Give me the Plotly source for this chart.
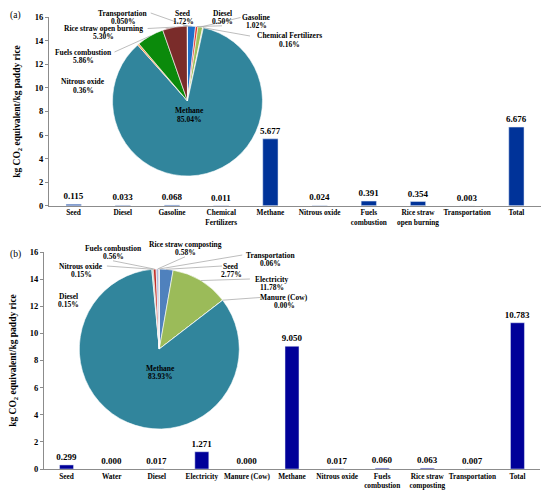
import math
import plotly.graph_objects as go

# Balken (a)
a_categories = ["Seed", "Diesel", "Gasoline", "Chemical<br>Fertilizers", "Methane", "Nitrous oxide",
                "Fuels<br>combustion", "Rice straw<br>open burning", "Transportation", "Total"]
a_values = [0.115, 0.033, 0.068, 0.011, 5.677, 0.024, 0.391, 0.354, 0.003, 6.676]

# Kreis (a)
a_pie_labels = ["Seed", "Diesel", "Gasoline", "Chemical Fertilizers", "Methane", "Nitrous oxide",
                "Fuels combustion", "Rice straw open burning", "Transportation"]
a_pie_pct = [1.72, 0.50, 1.02, 0.16, 85.04, 0.36, 5.86, 5.30, 0.050]
a_pie_text = ["1.72%", "0.50%", "1.02%", "0.16%", "85.04%", "0.36%", "5.86%", "5.30%", "0.050%"]
a_pie_colors = ["#1f70c8", "#e8342c", "#9dc05a", "#d8c27a", "#31859c", "#f79646", "#0b8a0b", "#7a2c2a", "#c9a0c0"]

# Balken (b)
b_categories = ["Seed", "Water", "Diesel", "Electricity", "Manure (Cow)", "Methane", "Nitrous oxide",
                "Fuels<br>combustion", "Rice straw<br>composting", "Transportation", "Total"]
b_values = [0.299, 0.000, 0.017, 1.271, 0.000, 9.050, 0.017, 0.060, 0.063, 0.007, 10.783]

# Kreis (b)
b_pie_labels = ["Seed", "Electricity", "Manure (Cow)", "Methane", "Diesel", "Nitrous oxide",
                "Fuels combustion", "Rice straw composting", "Transportation"]
b_pie_pct = [2.77, 11.78, 0.00, 83.93, 0.15, 0.15, 0.56, 0.58, 0.06]
b_pie_text = ["2.77%", "11.78%", "0.00%", "83.93%", "0.15%", "0.15%", "0.56%", "0.58%", "0.06%"]
b_pie_colors = ["#4f81bd", "#9bbb59", "#8064a2", "#31859c", "#4bacc6", "#0b7a0b", "#c0302a", "#b0b8d8", "#f79646"]

W, H = 550, 496
FONT = "Liberation Serif"
OFF = 8  # Seitenrand des Browsers (body margin)


def px(x):
    return (x - OFF) / W


def py(y):
    return 1 - (y - OFF) / H


# Beschriftungspositionen (Pixel im Bild): Mitte der Namenszeile, Zeile mit Linie (oder None)
a_label_pos = {
    "Transportation": (123, 13, "name"),
    "Seed": (183, 13, "pct"),
    "Diesel": (222, 13, "pct"),
    "Gasoline": (257, 17.5, "name"),
    "Chemical Fertilizers": (289, 36, "name"),
    "Rice straw open burning": (103, 28.5, "name"),
    "Fuels combustion": (83, 52, "name"),
    "Nitrous oxide": (83, 82, None),
    "Methane": (189, 111, None),
}
b_label_pos = {
    "Fuels combustion": (113, 248, "pct"),
    "Rice straw composting": (185, 244, "pct"),
    "Transportation": (270, 255, "name"),
    "Nitrous oxide": (81, 266, "name"),
    "Seed": (231, 266, "name"),
    "Electricity": (272, 279, "name"),
    "Manure (Cow)": (284, 297.5, "name"),
    "Diesel": (68, 296, None),
    "Methane": (160, 368, None),
}
LINE_GAP = 8.3
LABEL_SIZE = 7.5

fig = go.Figure()

# Balken
bar_font = dict(family=FONT, size=9, color="black", weight="bold")
fig.add_trace(go.Bar(x=a_categories, y=a_values, marker_color="#003399", width=0.31,
                     texttemplate="%{y:.3f}", textposition="outside", cliponaxis=False,
                     constraintext="none", textfont=bar_font, xaxis="x", yaxis="y"))
fig.add_trace(go.Bar(x=b_categories, y=b_values, marker_color="#000099", width=0.31,
                     texttemplate="%{y:.3f}", textposition="outside", cliponaxis=False,
                     constraintext="none", textfont=bar_font, xaxis="x2", yaxis="y2"))


def add_pie(labels, pct, texts, colors, cx, cy, r, label_pos):
    fig.add_trace(go.Pie(labels=labels, values=pct, sort=False, direction="clockwise", rotation=0,
                         marker=dict(colors=colors, line=dict(color="white", width=0.6)),
                         textinfo="none", showlegend=False, automargin=False,
                         domain=dict(x=[px(cx - r), px(cx + r)], y=[py(cy + r), py(cy - r)])))
    total = sum(pct)
    cum = 0
    font = dict(family=FONT, size=LABEL_SIZE, color="black", weight="bold")
    for lab, v, t in zip(labels, pct, texts):
        ang = 2 * math.pi * (cum + v / 2) / total
        cum += v
        tx, ty, line = label_pos[lab]
        fig.add_annotation(x=px(tx), y=py(ty), xref="paper", yref="paper", text=lab,
                           xanchor="center", yanchor="middle", showarrow=False, font=font)
        fig.add_annotation(x=px(tx), y=py(ty + LINE_GAP), xref="paper", yref="paper", text=t,
                           xanchor="center", yanchor="middle", showarrow=False, font=font)
        if line is None:
            continue
        # Führungslinie vom Kreisrand zur Beschriftung
        hx = cx + r * math.sin(ang)
        hy = cy - r * math.cos(ang)
        if line == "name":
            half = len(lab) * LABEL_SIZE * 0.25 + 1.5
            lx = tx + half if tx < hx else tx - half
            ly = ty
        else:
            lx = tx
            ly = ty + LINE_GAP + 4.5
        fig.add_shape(type="line", xref="paper", yref="paper",
                      x0=px(hx), y0=py(hy), x1=px(lx), y1=py(ly),
                      line=dict(color="#a0a0a0", width=0.7))


add_pie(a_pie_labels, a_pie_pct, a_pie_text, a_pie_colors, 187.5, 101, 75, a_label_pos)
add_pie(b_pie_labels, b_pie_pct, b_pie_text, b_pie_colors, 159.3, 349, 80, b_label_pos)

axis_common = dict(showline=True, linecolor="#8c8c8c", linewidth=1, showgrid=False,
                   zeroline=False, automargin=False)
ytitle = "kg CO<sub>2</sub> equivalent/kg paddy rice"
xtick_font = dict(family=FONT, size=7.3, weight="bold")
ytick_font = dict(family=FONT, size=8.5, weight="bold")
ytitle_font = dict(family=FONT, size=9.5, weight="bold")

fig.update_layout(
    width=W, height=H,
    margin=dict(l=0, r=0, t=0, b=0),
    paper_bgcolor="white", plot_bgcolor="white",
    showlegend=False,
    font=dict(family=FONT, color="black"),
    xaxis=dict(domain=[px(49), px(541)], anchor="y", type="category", ticks="", tickangle=0,
               tickfont=xtick_font, **axis_common),
    yaxis=dict(domain=[py(205.7), py(17.3)], anchor="x", range=[0, 16], dtick=2,
               ticks="outside", ticklen=3, tickcolor="#8c8c8c", tickfont=ytick_font,
               title=dict(text=ytitle, font=ytitle_font, standoff=12), **axis_common),
    xaxis2=dict(domain=[px(44), px(540)], anchor="y2", type="category", ticks="", tickangle=0,
                tickfont=xtick_font, **axis_common),
    yaxis2=dict(domain=[py(469), py(252)], anchor="x2", range=[0, 16], dtick=2,
                ticks="outside", ticklen=3, tickcolor="#8c8c8c", tickfont=ytick_font,
                title=dict(text=ytitle, font=ytitle_font, standoff=12), **axis_common),
)

fig.add_annotation(x=px(OFF), y=py(15), xref="paper", yref="paper", text="(a)", showarrow=False,
                   xanchor="left", yanchor="middle", font=dict(family=FONT, size=9.5, color="black"))
fig.add_annotation(x=px(OFF), y=py(254), xref="paper", yref="paper", text="(b)", showarrow=False,
                   xanchor="left", yanchor="middle", font=dict(family=FONT, size=9.5, color="black"))

fig.write_html("out.html")
